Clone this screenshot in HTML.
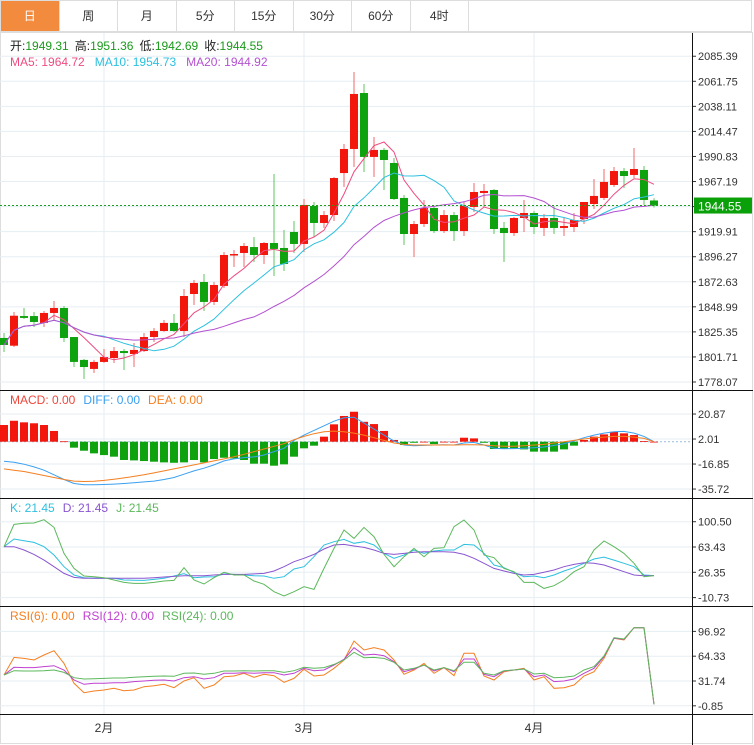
<!DOCTYPE html>
<html><head><meta charset="utf-8">
<style>
html,body{margin:0;padding:0;background:#fff;}
body{width:754px;height:745px;overflow:hidden;position:relative;font-family:"Liberation Sans","Noto Sans CJK SC",sans-serif;}
#tabs{position:absolute;left:0;top:0;width:752px;height:32px;border:1px solid #ddd;border-bottom:1px solid #ddd;box-sizing:border-box;display:flex;}
.tab{width:58.5px;height:30px;line-height:30px;text-align:center;font-size:12px;color:#333;border-right:1px solid #ddd;box-sizing:border-box;cursor:pointer;}
.tab.on{background:#f38b3f;color:#fff;}
svg{position:absolute;left:0;top:0;}
</style></head>
<body>
<div id="tabs">
<div class="tab on">日</div>
<div class="tab">周</div>
<div class="tab">月</div>
<div class="tab">5分</div>
<div class="tab">15分</div>
<div class="tab">30分</div>
<div class="tab">60分</div>
<div class="tab">4时</div>
</div>
<svg id="chart" width="754" height="745" style="top:0">
<rect x="0.5" y="32.5" width="752" height="711" fill="none" stroke="#ddd"/>
<g id="grid"></g>
<g id="marks"></g>
<g id="axes"></g>
<g id="labels" font-size="12">
<text x="10" y="50"><tspan fill="#222">开:</tspan><tspan fill="#1a9a1a">1949.31</tspan><tspan fill="#222" dx="6">高:</tspan><tspan fill="#1a9a1a">1951.36</tspan><tspan fill="#222" dx="6">低:</tspan><tspan fill="#1a9a1a">1942.69</tspan><tspan fill="#222" dx="6">收:</tspan><tspan fill="#1a9a1a">1944.55</tspan></text>
<text x="10" y="66"><tspan fill="#ef4b7f">MA5: 1964.72</tspan><tspan fill="#2cc0df" dx="10">MA10: 1954.73</tspan><tspan fill="#b451d0" dx="10">MA20: 1944.92</tspan></text>
<text x="10" y="404"><tspan fill="#f0453a">MACD: 0.00</tspan><tspan fill="#3aa0f0" dx="8">DIFF: 0.00</tspan><tspan fill="#f57f20" dx="8">DEA: 0.00</tspan></text>
<text x="10" y="512"><tspan fill="#2cc0df">K: 21.45</tspan><tspan fill="#8a55d0" dx="8">D: 21.45</tspan><tspan fill="#5cb85c" dx="8">J: 21.45</tspan></text>
<text x="10" y="620"><tspan fill="#f57f20">RSI(6): 0.00</tspan><tspan fill="#c040d0" dx="8">RSI(12): 0.00</tspan><tspan fill="#5cb85c" dx="8">RSI(24): 0.00</tspan></text>
</g>
</svg>
<script>
const opens=[1819.6,1812.3,1840.3,1840.3,1833.8,1843.2,1847.9,1820.5,1798.9,1790.4,1797.0,1800.7,1807.3,1804.5,1807.3,1820.5,1826.2,1833.8,1826.2,1861.1,1872.4,1853.6,1868.7,1897.9,1899.8,1905.4,1897.9,1909.2,1904.5,1919.6,1908.3,1944.1,1928.1,1935.6,1975.2,1997.9,2050.7,1990.4,1997.0,1984.7,1951.7,1917.7,1927.1,1942.2,1920.5,1935.6,1920.5,1943.2,1956.4,1959.2,1923.4,1918.6,1932.8,1937.5,1923.4,1932.8,1923.4,1924.3,1931.8,1946.0,1951.7,1963.9,1977.1,1973.4,1978.1,1949.31];
const closes=[1813.0,1840.6,1838.5,1834.7,1843.2,1847.9,1819.6,1797.0,1792.2,1797.0,1801.7,1807.3,1805.4,1808.3,1820.5,1826.2,1833.8,1826.2,1859.2,1871.5,1853.6,1869.6,1897.9,1898.8,1906.4,1897.9,1909.2,1903.6,1889.4,1908.3,1945.1,1928.1,1935.6,1970.5,1997.9,2049.8,1990.4,1997.0,1987.5,1950.7,1917.7,1927.1,1942.2,1920.5,1935.6,1920.5,1944.1,1957.3,1958.3,1922.4,1918.6,1932.8,1937.5,1924.3,1932.8,1923.4,1925.2,1930.9,1947.9,1953.6,1966.8,1977.1,1972.4,1979.0,1949.8,1944.55];
const highs=[1824.3,1844.1,1847.9,1844.1,1845.1,1854.5,1849.8,1820.5,1799.8,1798.9,1809.2,1811.1,1809.2,1814.9,1824.3,1829.0,1836.6,1842.2,1865.8,1874.3,1880.0,1872.4,1900.7,1902.6,1909.2,1914.9,1910.2,1974.3,1921.5,1930.0,1950.7,1947.9,1939.4,1971.5,2002.6,2070.5,2059.2,2009.2,1998.8,1989.4,1954.5,1930.0,1949.8,1944.1,1940.3,1938.5,1947.9,1965.8,1964.9,1960.1,1929.0,1933.7,1949.8,1939.4,1936.6,1944.1,1932.8,1937.5,1947.9,1969.6,1979.0,1980.9,1980.0,1998.8,1981.8,1951.36];
const lows=[1806.4,1811.1,1837.5,1830.0,1830.0,1835.6,1815.8,1792.2,1780.9,1786.6,1796.0,1796.0,1789.4,1792.2,1806.4,1815.8,1825.3,1825.3,1820.5,1850.7,1845.1,1850.7,1866.8,1886.6,1886.6,1891.3,1889.4,1878.1,1882.8,1899.8,1900.7,1914.9,1923.4,1930.0,1962.0,1980.9,1976.2,1971.5,1959.2,1949.8,1907.3,1896.0,1924.3,1918.6,1918.6,1911.1,1915.8,1938.5,1943.2,1917.7,1891.3,1915.8,1919.6,1917.7,1915.8,1917.7,1915.8,1919.6,1927.1,1941.3,1949.8,1962.0,1961.1,1970.5,1945.1,1942.69];
const priceTicks=[2085.39,2061.75,2038.11,2014.47,1990.83,1967.19,1943.55,1919.91,1896.27,1872.63,1848.99,1825.35,1801.71,1778.07];
const lastPrice=1944.55;
const macdBars=[12.6,15.8,14.6,13.9,12.6,8.1,0.3,-4.5,-6.8,-8.8,-10.1,-11.3,-13.8,-14.1,-14.6,-15.1,-15.6,-15.9,-15.6,-13.8,-15.6,-13.1,-12.1,-12.6,-13.8,-16.6,-16.6,-18.1,-17.1,-11.3,-5.0,-3.0,3.8,13.1,19.4,22.6,15.0,13.3,8.1,1.3,-2.5,-0.8,0,-1.8,0,0,3.0,2.5,-0.8,-5.5,-5.5,-5.0,-5.8,-7.5,-7.5,-7.5,-5.8,-3.0,1.3,3.8,5.5,7.5,6.3,5.0,0.5,0];
const diffLine=[-14.7,-15.5,-17,-19,-21.5,-25,-28.5,-31.5,-32.5,-32.5,-32.3,-32,-31.5,-31,-30.3,-29.7,-28.5,-27,-24.5,-22,-20,-17.5,-14.5,-13,-12,-11.5,-10,-7.5,-5,1,5,8.5,12,15.5,18,18.5,14,9.5,5,0.5,-2.5,-3,-2.8,-2.5,-2.3,-2.5,-1,-0.5,-2.5,-5,-5.3,-5.2,-5,-4.5,-4,-2.8,-1.5,0.5,3,5,6.5,7.5,7.8,6.5,4,0];
const deaLine=[-20.5,-21.5,-22.5,-24,-25.5,-27,-28.5,-29.7,-30,-29.8,-29.2,-28.3,-27.3,-26.2,-25,-23.5,-22,-20.5,-19,-17.5,-16,-14.5,-13,-11.3,-9.5,-7.5,-5.5,-3.5,-1.5,1.5,4,6,7.5,8,7.5,6.5,5,3,1,-1,-2,-2.5,-2.5,-2.5,-2.5,-2.5,-2.3,-2.3,-2.5,-3,-3.5,-3.5,-3,-2.5,-2,-1,0,1,2,3,3.5,4,4,3.5,2.5,0];
const macdTicks=[20.87,2.01,-16.85,-35.72];
const kLine=[63.9,75.1,72.7,70.2,63.9,51.7,34.6,22.4,18.5,17.5,17.5,17.5,15.0,14.8,14.5,16.0,17.5,20.9,24.3,18.5,19.4,19.9,23.8,23.3,22.4,21.4,20.9,17.5,19.9,31.2,34.6,49.2,66.3,71.2,74.6,68.8,71.2,66.3,54.1,46.8,51.7,59.0,54.1,57.5,59.0,59.0,67.3,66.3,54.1,37.0,33.1,26.3,19.9,20.9,18.5,22.4,28.2,33.1,39.5,45.8,48.7,44.3,39.5,34.6,22.4,21.45];
const dLine=[63.9,63.9,59.0,52.6,44.3,34.6,24.8,18.9,17.5,17.5,17.5,17.5,17.5,17.5,17.5,18.5,19.4,20.4,21.4,21.4,21.4,22.4,23.3,23.3,23.3,24.0,24.8,28.2,34.6,41.9,46.8,52.6,60.5,66.3,67.3,64.9,62.9,59.0,54.1,52.6,54.1,55.6,56.6,56.6,56.6,55.6,52.6,46.8,39.5,32.1,28.2,24.8,22.4,23.3,26.3,29.7,34.6,38.0,40.4,39.5,37.0,32.1,27.2,22.4,21.4,21.45];
const jLine=[63.9,96.6,98.1,98.6,103.5,92.2,54.1,32.1,20.9,19.9,18.5,15.0,11.6,10.1,10.1,11.6,13.6,14.5,33.1,15.0,9.2,18.5,26.3,22.4,22.4,13.6,8.7,-2.1,-8.4,-2.1,5.3,1.3,32.1,61.4,88.3,76.1,92.2,78.5,52.6,34.6,49.2,61.4,49.2,61.4,62.4,93.2,103.0,88.3,51.7,47.8,32.1,27.2,11.6,11.6,2.8,6.7,15.0,27.2,34.6,59.0,72.2,63.9,54.1,39.5,19.9,21.45];
const kdjTicks=[100.50,63.43,26.35,-10.73];
const rsi6=[39.6,62.8,61.5,59.3,65.9,71.6,54.9,28.7,16.4,18.6,19.9,22.1,19.0,19.9,24.3,25.6,27.4,23.0,31.7,36.1,22.1,26.5,37.4,38.3,41.8,36.6,40.5,38.7,30.0,35.2,47.1,38.3,39.6,48.4,59.3,84.3,72.5,75.5,72.5,59.3,40.5,46.2,54.9,41.8,49.3,38.7,68.1,68.1,38.3,33.0,44.0,46.2,48.4,33.0,37.4,22.1,23.0,26.5,38.3,44.0,61.5,87.8,85.6,101.8,101.8,1.1];
const rsi12=[39.6,49.7,49.3,49.3,50.6,51.9,46.2,33.0,27.4,28.7,28.7,29.5,29.5,30.9,31.7,32.6,33.0,31.7,36.1,37.4,34.4,36.1,41.8,41.8,42.7,41.8,42.7,42.7,39.6,41.8,48.4,45.3,46.2,52.8,60.2,75.5,65.9,66.8,65.0,57.1,44.0,47.5,52.8,44.9,49.3,44.0,60.6,60.6,40.5,37.4,44.9,46.2,47.5,37.4,39.6,30.9,31.7,34.4,41.8,48.4,63.7,87.8,86.5,101.8,101.8,1.1];
const rsi24=[39.6,45.3,44.9,44.9,45.3,46.2,43.1,36.1,34.4,34.8,35.2,35.7,35.7,36.6,37.4,37.9,38.3,37.9,41.8,42.2,40.5,41.8,44.9,44.9,45.3,44.9,45.3,45.3,43.1,45.3,49.7,48.4,49.3,53.6,59.3,69.4,62.4,62.8,61.5,56.3,46.2,48.4,52.8,46.2,49.3,45.3,56.3,56.3,41.8,39.6,45.3,46.2,47.5,40.9,41.8,36.1,36.6,38.3,46.2,50.6,64.6,88.7,86.9,101.8,101.8,1.1];
const rsiTicks=[96.92,64.33,31.74,-0.85];
const monthLabels=["2月","3月","4月"];
const monthIdx=[10,30,53];

const NS="http://www.w3.org/2000/svg";
function mk(tag,attrs,parent){const e=document.createElementNS(NS,tag);for(const k in attrs)e.setAttribute(k,attrs[k]);parent.appendChild(e);return e;}
const grid=document.getElementById('grid'),marks=document.getElementById('marks'),axes=document.getElementById('axes');
const AX=692;
const xOf=i=>4+10*i;
const yP=p=>382-(p-1778.07)*1.06;
const yM=v=>441.7-v*1.3256;
const yK=v=>572.3-(v-26.35)/1.4656;
const yR=v=>681-(v-31.74)/1.314;
const RED="#f2160c",GREEN="#0ea30e";

// vertical month grid
monthIdx.forEach((mi,k)=>{
  const x=xOf(mi);
  const l=mk('line',{x1:x,x2:x,y1:33,y2:714,stroke:'#e6eef3'},grid);
  
  
  const t=mk('text',{x:x,y:732,'font-size':12,fill:'#333','text-anchor':'middle'},axes);
  t.textContent=monthLabels[k];
  
  
});
function ticks(arr,yf,name){
  arr.forEach(v=>{
    const y=yf(v);
    const g=mk('line',{x1:0,x2:AX,y1:y,y2:y,stroke:'#e6eef3'},grid);
    
    
    mk('line',{x1:AX,x2:AX+4,y1:y,y2:y,stroke:'#333'},axes);
    const t=mk('text',{x:AX+6,y:y+4,'font-size':11,fill:'#333'},axes);
    t.textContent=v.toFixed(2);
    
    
  });
}
ticks(priceTicks,yP,'price');ticks(macdTicks,yM,'macd');ticks(kdjTicks,yK,'kdj');ticks(rsiTicks,yR,'rsi');

// panel borders
[390,498,606,714].forEach(y=>{const l=mk('line',{x1:0,x2:753,y1:y+0.5,y2:y+0.5,stroke:'#111'},axes);

});
const av=mk('line',{x1:AX+0.5,x2:AX+0.5,y1:33,y2:745,stroke:'#111'},axes);



// candles
closes.forEach((c,i)=>{
  const o=opens[i],h=highs[i],lo=lows[i],x=xOf(i);
  const up=c>=o,col=up?RED:GREEN;
  const w=mk('line',{x1:x,x2:x,y1:yP(h),y2:yP(lo),stroke:up?'#f26a6a':'#5cc45c'},marks);
  
  
  const top=yP(Math.max(o,c)),bot=yP(Math.min(o,c));
  const r=mk('rect',{x:x-4,y:top,width:8,height:Math.max(1.5,bot-top),fill:col},marks);
  
  
});
// MA lines from closes
function ma(n){return closes.map((_,i)=>{const s=closes.slice(Math.max(0,i-n+1),i+1);return s.reduce((a,b)=>a+b,0)/s.length;});}
function poly(vals,yf,color,name,start){
  const pts=vals.map((v,i)=>i>=(start||0)?xOf(i)+','+yf(v).toFixed(1):null).filter(Boolean).join(' ');
  const p=mk('polyline',{points:pts,fill:'none',stroke:color,'stroke-width':1},marks);
  
  
}
poly(ma(5),yP,'#ef4b7f','ma5-line');
poly(ma(10),yP,'#2cc0df','ma10-line');
poly(ma(20),yP,'#b451d0','ma20-line');
// last price line
const lp=yP(lastPrice);
const dl=mk('line',{x1:0,x2:AX,y1:lp,y2:lp,stroke:'#1aa01a','stroke-dasharray':'2,2'},marks);


const lb=mk('rect',{x:AX+2,y:lp-8,width:58,height:16,fill:'#0aa00a'},axes);


const lt=mk('text',{x:AX+6,y:lp+5,'font-size':12,fill:'#fff'},axes);
lt.textContent=lastPrice.toFixed(2);



// MACD
const z=yM(0);
const zl=mk('line',{x1:0,x2:AX,y1:z,y2:z,stroke:'#9bd','stroke-dasharray':'2,2'},marks);


macdBars.forEach((v,i)=>{
  const y=yM(v);
  const b=mk('rect',{x:xOf(i)-4,y:Math.min(y,z),width:8,height:Math.max(0.8,Math.abs(z-y)),fill:v>=0?RED:GREEN},marks);
  
  
});
poly(diffLine,yM,'#3aa0f0','diff-line');
poly(deaLine,yM,'#f57f20','dea-line');
// KDJ
poly(kLine,yK,'#2cc0df','k-line');
poly(dLine,yK,'#8a55d0','d-line');
poly(jLine,yK,'#5cb85c','j-line');
// RSI
poly(rsi6,yR,'#f57f20','rsi6-line');
poly(rsi12,yR,'#c040d0','rsi12-line');
poly(rsi24,yR,'#5cb85c','rsi24-line');
</script>
</body></html>
